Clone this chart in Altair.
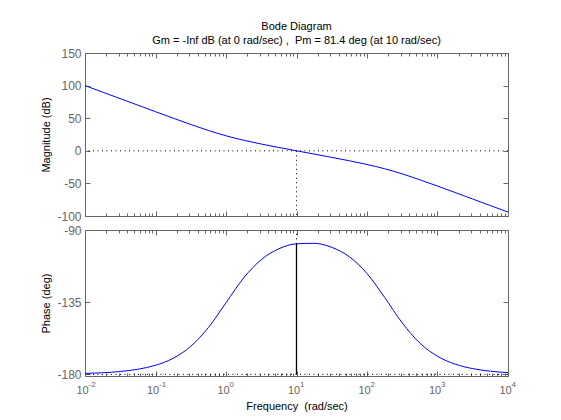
import altair as alt
import pandas as pd

# ---- data ----
freq = [0.01, 0.01778, 0.03162, 0.05623, 0.1, 0.1778, 0.3162, 0.5623,
        1.0, 1.778, 3.162, 5.623, 10.0, 17.78, 31.62, 56.23,
        100.0, 177.8, 316.2, 562.3, 1000.0, 1778.0, 3162.0, 5623.0, 10000.0]
mag_db = [100.0, 90.0, 80.0, 70.0, 60.0, 50.1, 40.4, 31.2,
          23.0, 16.2, 10.4, 5.1, 0.0, -5.0, -10.1, -15.3,
          -21.0, -27.5, -35.4, -44.5, -54.1, -64.0, -74.0, -84.0, -94.0]
phase_deg = [-179.4, -179.0, -178.2, -176.8, -174.3, -170.0, -162.5, -150.8,
             -135.3, -119.9, -108.5, -101.7, -98.6, -98.3, -100.8, -106.7,
             -117.1, -132.0, -147.9, -160.5, -168.7, -173.6, -176.4, -178.0, -178.9]

decades = [0.01, 0.1, 1, 10, 100, 1000, 10000]
minor_freq = [m * d for d in decades[:-1] for m in range(2, 10)]
mag_ticks = [-100, -50, 0, 50, 100, 150]
phase_ticks = [-180, -135, -90]

wc = 10.0          # gain crossover frequency (rad/sec)
pm_phase = -98.6   # phase at crossover
mag_ref = 0.0
mag_floor = -100.0
phase_floor = -180.0
phase_top = -90.0

NB = '\u00a0'
title_lines = ["Bode Diagram",
               "Gm = -Inf dB (at 0 rad/sec) ," + NB + " Pm = 81.4 deg (at 10 rad/sec)"]
x_title = "Frequency" + NB + " (rad/sec)"

GRAY = '#666666'
FONT = 'Liberation Sans'
DOT = [1, 3.5]

df = pd.DataFrame({'freq': freq, 'mag': mag_db, 'phase': phase_deg})
ref_mag = pd.DataFrame({'freq': [wc], 'level': [mag_ref], 'floor': [mag_floor]})
ref_ph = pd.DataFrame({'freq': [wc], 'floor': [phase_floor], 'pm': [pm_phase], 'top': [phase_top]})

xscale = alt.Scale(type='log', domain=[0.01, 10000], nice=False)
ymag = alt.Scale(domain=[-100, 150], nice=False, zero=False)
yph = alt.Scale(domain=[-181, -90], nice=False, zero=False)


def tick_axis(orient, values, size):
    return alt.Axis(orient=orient, values=values, offset=-size, tickSize=size,
                    tickColor=GRAY, tickWidth=1, labels=False, domain=False,
                    grid=False, title=None)


def left_label_axis(values, title):
    return alt.Axis(orient='left', values=values, ticks=False, tickSize=0,
                    domain=False, grid=False, labelColor=GRAY, labelFontSize=12,
                    labelPadding=4, labelOverlap=False,
                    labelExpr="toString(datum.value)", title=title,
                    titleColor='black', titleFontSize=11, titleFontWeight='normal',
                    titlePadding=5)


def ghost(field, yscale, xaxis, yaxis):
    return alt.Chart(df).mark_line(opacity=0).encode(
        x=alt.X('freq:Q', scale=xscale, axis=xaxis),
        y=alt.Y(f'{field}:Q', scale=yscale, axis=yaxis))


# ---- magnitude panel ----
mag_line = alt.Chart(df).mark_line(color='#0000ff', strokeWidth=1, interpolate='monotone').encode(
    x=alt.X('freq:Q', scale=xscale, axis=tick_axis('bottom', decades, 5)),
    y=alt.Y('mag:Q', scale=ymag, axis=left_label_axis(mag_ticks, 'Magnitude (dB)')))

mag_h = alt.Chart(ref_mag).mark_rule(color='black', strokeWidth=1, strokeDash=DOT).encode(
    y=alt.Y('level:Q', scale=ymag, axis=None))
mag_v = alt.Chart(ref_mag).mark_rule(color='black', strokeWidth=1, strokeDash=DOT).encode(
    x=alt.X('freq:Q', scale=xscale, axis=None),
    y=alt.Y('level:Q', scale=ymag, axis=None),
    y2=alt.Y2('floor:Q'))

top = alt.layer(
    mag_line, mag_h, mag_v,
    ghost('mag', ymag, tick_axis('bottom', minor_freq, 3), tick_axis('left', mag_ticks, 5)),
    ghost('mag', ymag, tick_axis('top', decades, 5), tick_axis('right', mag_ticks, 5)),
    ghost('mag', ymag, tick_axis('top', minor_freq, 3), None),
).resolve_axis(x='independent', y='independent').properties(
    width=423, height=163,
    title=alt.TitleParams(text=title_lines, font=FONT, fontSize=11, fontWeight='normal',
                          color='black', anchor='middle', frame='group',
                          lineHeight=14, offset=1))

# ---- phase panel ----
base_axis = alt.Axis(orient='bottom', values=decades, labelExpr="'10'", ticks=False, tickSize=0,
                     domain=False, grid=False, labelColor=GRAY, labelFontSize=11,
                     labelPadding=8, labelOffset=-3, labelFlush=False, labelOverlap=False,
                     title=x_title, titleColor='black', titleFontSize=11,
                     titleFontWeight='normal', titlePadding=5)
exp_axis = alt.Axis(orient='bottom', values=decades,
                    labelExpr="toString(round(log(datum.value) / LN10))",
                    ticks=False, tickSize=0, domain=False, grid=False, labelColor=GRAY,
                    labelFontSize=8, labelPadding=4, labelOffset=3, labelAlign='left',
                    labelFlush=False, labelOverlap=False, title=None)

ph_line = alt.Chart(df).mark_line(color='#0000ff', strokeWidth=1, interpolate='monotone').encode(
    x=alt.X('freq:Q', scale=xscale, axis=base_axis),
    y=alt.Y('phase:Q', scale=yph, axis=left_label_axis(phase_ticks, 'Phase (deg)')))

ph_h = alt.Chart(ref_ph).mark_rule(color='black', strokeWidth=1, strokeDash=DOT).encode(
    y=alt.Y('floor:Q', scale=yph, axis=None))
ph_v = alt.Chart(ref_ph).mark_rule(color='black', strokeWidth=1.3).encode(
    x=alt.X('freq:Q', scale=xscale, axis=None),
    y=alt.Y('floor:Q', scale=yph, axis=None),
    y2=alt.Y2('pm:Q'))
ph_v2 = alt.Chart(ref_ph).mark_rule(color='black', strokeWidth=1, strokeDash=DOT).encode(
    x=alt.X('freq:Q', scale=xscale, axis=None),
    y=alt.Y('pm:Q', scale=yph, axis=None),
    y2=alt.Y2('top:Q'))

bottom = alt.layer(
    ph_line, ph_h, ph_v, ph_v2,
    ghost('phase', yph, exp_axis, tick_axis('left', phase_ticks, 5)),
    ghost('phase', yph, tick_axis('bottom', decades, 5), tick_axis('right', phase_ticks, 5)),
    ghost('phase', yph, tick_axis('bottom', minor_freq, 3), None),
    ghost('phase', yph, tick_axis('top', decades, 5), None),
    ghost('phase', yph, tick_axis('top', minor_freq, 3), None),
).resolve_axis(x='independent', y='independent').properties(width=423, height=146)

chart = alt.vconcat(top, bottom, spacing=0).properties(
    padding={'left': 32, 'top': 12, 'right': 5, 'bottom': 5}
).configure_view(stroke=GRAY, strokeWidth=1).configure_axis(
    labelFont=FONT, titleFont=FONT).configure_title(font=FONT)

chart.save("out.html", embed_options={"renderer": "svg", "actions": False})
